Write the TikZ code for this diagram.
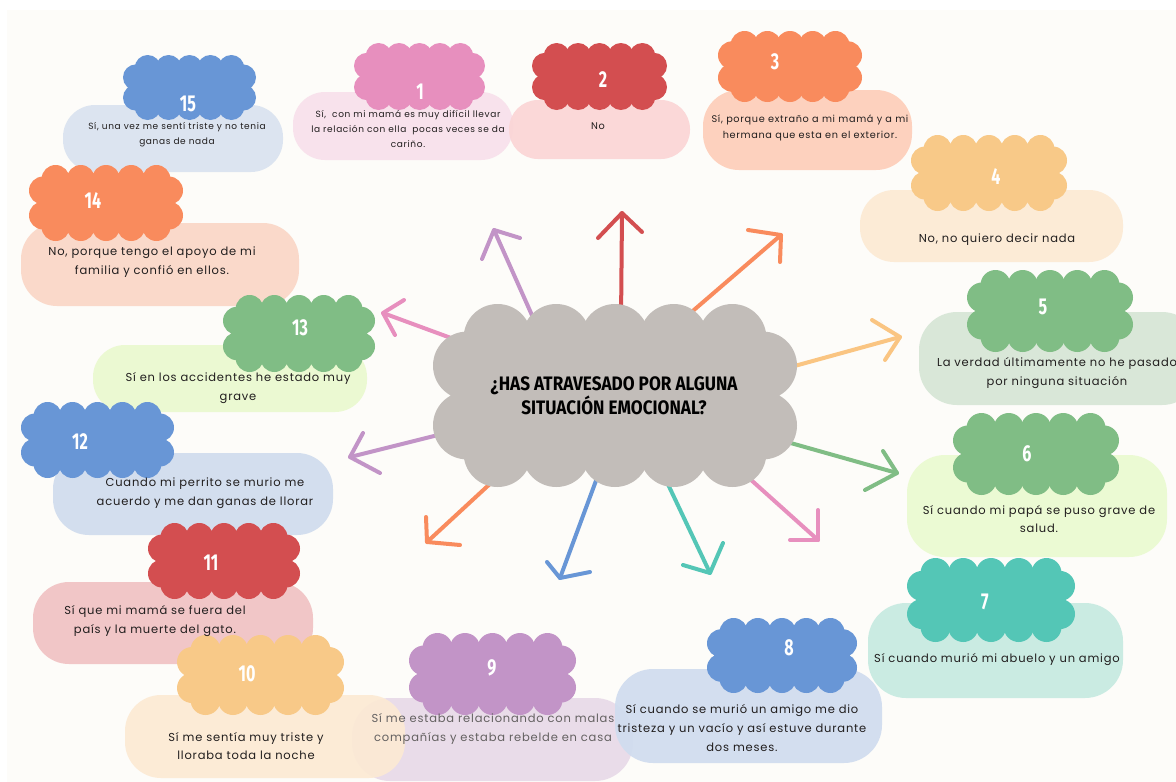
\documentclass[tikz,border=0pt]{standalone}
\usepackage{fontspec}
\setmainfont{Poppins}[LetterSpace=7]
\newfontfamily\numfont{Fira Sans}
\definecolor{bgc}{HTML}{FDFCF9}
\definecolor{txt}{HTML}{211E1E}
\definecolor{cgray}{HTML}{C2BDB9}
\definecolor{cblue}{HTML}{6896D6}
\definecolor{cpink}{HTML}{E78FBE}
\definecolor{cred}{HTML}{D34E50}
\definecolor{corange}{HTML}{F98B5D}
\definecolor{cyellow}{HTML}{F8C988}
\definecolor{cgreen}{HTML}{80BD85}
\definecolor{cteal}{HTML}{54C6B6}
\definecolor{cpurple}{HTML}{C294C7}
\definecolor{ayellow}{HTML}{FAC582}
\definecolor{p15}{HTML}{DAE3F0}
\definecolor{p1}{HTML}{F8E0EB}
\definecolor{p2}{HTML}{FBD5D6}
\definecolor{p3}{HTML}{FDCEB9}
\definecolor{p4}{HTML}{FCEAD4}
\definecolor{p5}{HTML}{D6E6D6}
\definecolor{p6}{HTML}{EAFAD0}
\definecolor{p7}{HTML}{C6EAE1}
\definecolor{p8}{HTML}{D0DCEF}
\definecolor{p9}{HTML}{E8DAE8}
\definecolor{p10}{HTML}{FCEAD4}
\definecolor{p11}{HTML}{F0C2C3}
\definecolor{p12}{HTML}{D0DCEE}
\definecolor{p13}{HTML}{EAF9CF}
\definecolor{p14}{HTML}{FAD7C7}
\newcommand\cloudshape[6]{%
  \pgfmathsetmacro\cA{(#2+#4)/2}%
  \pgfmathsetmacro\cB{(#3+#5)/2}%
  \pgfmathsetmacro\cH{(#4-#2)/2-1.9*#6}%
  \pgfmathsetmacro\cS{0.52*((#5-#3)/2-#6)}%
  \fill[#1] (#2+#6,#3+#6) rectangle (#4-#6,#5-#6);
  \foreach \k in {0,1,2,3,4}{%
    \pgfmathsetmacro\cX{\cA-\cH+\cH*\k/2}%
    \fill[#1] (\cX,#3+#6) circle[radius=#6];
    \fill[#1] (\cX,#5-#6) circle[radius=#6];
  }%
  \fill[#1] (#2+#6,\cB-\cS) circle[radius=#6] (#2+#6,\cB+\cS) circle[radius=#6]
            (#4-#6,\cB-\cS) circle[radius=#6] (#4-#6,\cB+\cS) circle[radius=#6];
}
\newcommand\pill[6]{\fill[#1,opacity=0.92,rounded corners=#6pt] (#2,#3) rectangle (#4,#5);}
\begin{document}
\begin{tikzpicture}[x=1pt,y=-1pt,
  bodytxt/.style={text=txt,align=center,inner sep=0pt,font=\fontsize{11.5}{18.8}\selectfont},
  smalltxt/.style={text=txt,align=center,inner sep=0pt,font=\fontsize{9}{14.8}\selectfont},
  midtxt/.style={text=txt,align=center,inner sep=0pt,font=\fontsize{9.7}{16}\selectfont},
  numtxt/.style={text=white,inner sep=0pt,font=\numfont\bfseries\fontsize{23}{23}\selectfont},
  titletxt/.style={text=black,align=center,inner sep=0pt,font=\numfont\bfseries\fontsize{19.5}{24}\selectfont},
  arr/.style={line width=4pt,line cap=round,line join=round}]
\useasboundingbox (0,0) rectangle (1176,782);
\fill[white] (0,0) rectangle (1176,782);
\fill[bgc] (7,10) rectangle (1176,782);

% arrow coordinates
\coordinate (s1) at (535,322); \coordinate (e1) at (494,230); \coordinate (e1a) at (482,259); \coordinate (e1b) at (520,238);
\coordinate (s2) at (621,322); \coordinate (e2) at (622,213); \coordinate (e2a) at (598,238); \coordinate (e2b) at (642,232);
\coordinate (s3) at (680,322); \coordinate (e3) at (781,235); \coordinate (e3a) at (748,230); \coordinate (e3b) at (780,262);
\coordinate (s4) at (780,370); \coordinate (e4) at (900,337); \coordinate (e4a) at (872,320); \coordinate (e4b) at (885,360);
\coordinate (s5) at (780,440); \coordinate (e5) at (897,473); \coordinate (e5a) at (883,451); \coordinate (e5b) at (865,490);
\coordinate (s6) at (740,470); \coordinate (e6) at (818,540); \coordinate (e6a) at (790,540); \coordinate (e6b) at (818,510);
\coordinate (s7) at (665,478); \coordinate (e7) at (710,573); \coordinate (e7a) at (683,565); \coordinate (e7b) at (723,543);
\coordinate (s8) at (597,478); \coordinate (e8) at (560,578); \coordinate (e8a) at (547,562); \coordinate (e8b) at (590,572);
\coordinate (s9) at (505,470); \coordinate (e9) at (427,542); \coordinate (e9a) at (426,517); \coordinate (e9b) at (460,545);
\coordinate (s10) at (450,432); \coordinate (e10) at (350,457); \coordinate (e10a) at (363,433); \coordinate (e10b) at (380,473);
\coordinate (s11) at (470,345); \coordinate (e11) at (383,313); \coordinate (e11a) at (404,300); \coordinate (e11b) at (395,335);

\draw[arr,cpurple] (s1) -- (e1); \draw[arr,cpurple] (e1a) -- (e1) -- (e1b);
\draw[arr,cred] (s2) -- (e2); \draw[arr,cred] (e2a) -- (e2) -- (e2b);
\draw[arr,corange] (s3) -- (e3); \draw[arr,corange] (e3a) -- (e3) -- (e3b);
\draw[arr,ayellow] (s4) -- (e4); \draw[arr,ayellow] (e4a) -- (e4) -- (e4b);
\draw[arr,cgreen] (s5) -- (e5); \draw[arr,cgreen] (e5a) -- (e5) -- (e5b);
\draw[arr,cpink] (s6) -- (e6); \draw[arr,cpink] (e6a) -- (e6) -- (e6b);
\draw[arr,cteal] (s7) -- (e7); \draw[arr,cteal] (e7a) -- (e7) -- (e7b);
\draw[arr,cblue] (s8) -- (e8); \draw[arr,cblue] (e8a) -- (e8) -- (e8b);
\draw[arr,corange] (s9) -- (e9); \draw[arr,corange] (e9a) -- (e9) -- (e9b);
\draw[arr,cpurple] (s10) -- (e10); \draw[arr,cpurple] (e10a) -- (e10) -- (e10b);
\draw[arr,cpink] (s11) -- (e11); \draw[arr,cpink] (e11a) -- (e11) -- (e11b);

% pills
\pill{p15}{63}{105}{283}{172}{32}
\pill{p1}{293}{92}{513}{160}{32}
\pill{p2}{509}{100}{690}{159}{29}
\pill{p3}{703}{90}{912}{170}{36}
\pill{p4}{860}{190}{1123}{262}{34}
\pill{p5}{919}{312}{1200}{405}{38}
\pill{p6}{907}{455}{1167}{557}{38}
\pill{p7}{868}{603}{1123}{698}{38}
\pill{p9}{352}{698}{633}{781}{38}
\pill{p8}{615}{669}{882}{763}{38}
\pill{p10}{125}{695}{405}{778}{36}
\pill{p11}{33}{582}{313}{664}{36}
\pill{p12}{53}{453}{333}{535}{36}
\pill{p13}{93}{345}{367}{412}{32}
\pill{p14}{21}{223}{299}{306}{36}

% clouds
\cloudshape{cblue}{123}{55}{256}{120}{13}
\cloudshape{cpink}{354}{43}{485}{110}{13}
\cloudshape{cred}{532}{43}{667}{110}{13}
\cloudshape{corange}{718}{31}{862}{102}{14}
\cloudshape{cyellow}{911}{135}{1067}{211}{14}
\cloudshape{cgreen}{967}{270}{1133}{352}{15}
\cloudshape{cgreen}{953}{413}{1119}{495}{15}
\cloudshape{cteal}{907}{558}{1075}{642}{15}
\cloudshape{cblue}{707}{618}{857}{693}{14}
\cloudshape{cpurple}{409}{633}{576}{715}{15}
\cloudshape{cyellow}{177}{635}{344}{715}{15}
\cloudshape{cred}{148}{523}{300}{599}{14}
\cloudshape{cblue}{21}{402}{174}{478}{14}
\cloudshape{cgreen}{223}{295}{375}{372}{14}
\cloudshape{corange}{29}{165}{183}{241}{14}
\cloudshape{cgray}{433}{304}{797}{487}{34}

% numbers
\node[numtxt] (n1) at (420,92) {\scalebox{0.7}[1]{1}};
\node[numtxt] (n2) at (603,80) {\scalebox{0.7}[1]{2}};
\node[numtxt] (n3) at (775,62) {\scalebox{0.7}[1]{3}};
\node[numtxt] (n4) at (996,177) {\scalebox{0.7}[1]{4}};
\node[numtxt] (n5) at (1043,307) {\scalebox{0.7}[1]{5}};
\node[numtxt] (n6) at (1027,454) {\scalebox{0.7}[1]{6}};
\node[numtxt] (n7) at (985,602) {\scalebox{0.7}[1]{7}};
\node[numtxt] (n8) at (789,648) {\scalebox{0.7}[1]{8}};
\node[numtxt] (n9) at (492,668) {\scalebox{0.7}[1]{9}};
\node[numtxt] (n10) at (247,674) {\scalebox{0.7}[1]{10}};
\node[numtxt] (n11) at (211,563) {\scalebox{0.7}[1]{11}};
\node[numtxt] (n12) at (80,442) {\scalebox{0.7}[1]{12}};
\node[numtxt] (n13) at (300,328) {\scalebox{0.7}[1]{13}};
\node[numtxt] (n14) at (93,201) {\scalebox{0.7}[1]{14}};
\node[numtxt] (n15) at (188,104) {\scalebox{0.7}[1]{15}};

% title
\node[titletxt] (title) at (614,396) {\scalebox{0.88}[1]{¿HAS ATRAVESADO POR ALGUNA}\\\scalebox{0.88}[1]{SITUACIÓN EMOCIONAL?}};

% texts
\node[smalltxt] (t15) at (177,135) {Sí, una vez me sentí triste y no tenia\\ganas de nada};
\node[smalltxt] (t1) at (408,129) {Sí,\ \ con mi mamá es muy difícil llevar\\la relación con ella\ \ pocas veces se da\\cariño.};
\node[midtxt] (t2) at (598,126) {No};
\node[midtxt] (t3) at (810,128) {Sí, porque extraño a mi mamá y a mi\\hermana que esta en el exterior.};
\node[bodytxt] (t4) at (997,240) {No, no quiero decir nada};
\node[bodytxt] (t5) at (1057,373) {La verdad últimamente no he pasado\\por ninguna situación};
\node[bodytxt] (t6) at (1039,519) {Sí cuando mi papá se puso grave de\\salud.};
\node[bodytxt] (t7) at (997,660) {Sí cuando murió mi abuelo y un amigo};
\node[bodytxt] (t8) at (742,728) {Sí cuando se murió un amigo me dio\\tristeza y un vacío y así estuve durante\\dos meses.};
\node[bodytxt,text=txt!70] (t9) at (493,729) {Sí me estaba relacionando con malas\\compañías y estaba rebelde en casa};
\node[bodytxt] (t10) at (246,746) {Sí me sentía muy triste y\\lloraba toda la noche};
\node[bodytxt] (t11) at (155,621) {Sí que mi mamá se fuera del\\país y la muerte del gato.};
\node[bodytxt] (t12) at (205,493) {Cuando mi perrito se murio me\\acuerdo y me dan ganas de llorar};
\node[bodytxt] (t13) at (238,388) {Sí en los accidentes he estado muy\\grave};
\node[bodytxt] (t14) at (152,262) {No, porque tengo el apoyo de mi\\familia y confió en ellos.};
\end{tikzpicture}
\end{document}
